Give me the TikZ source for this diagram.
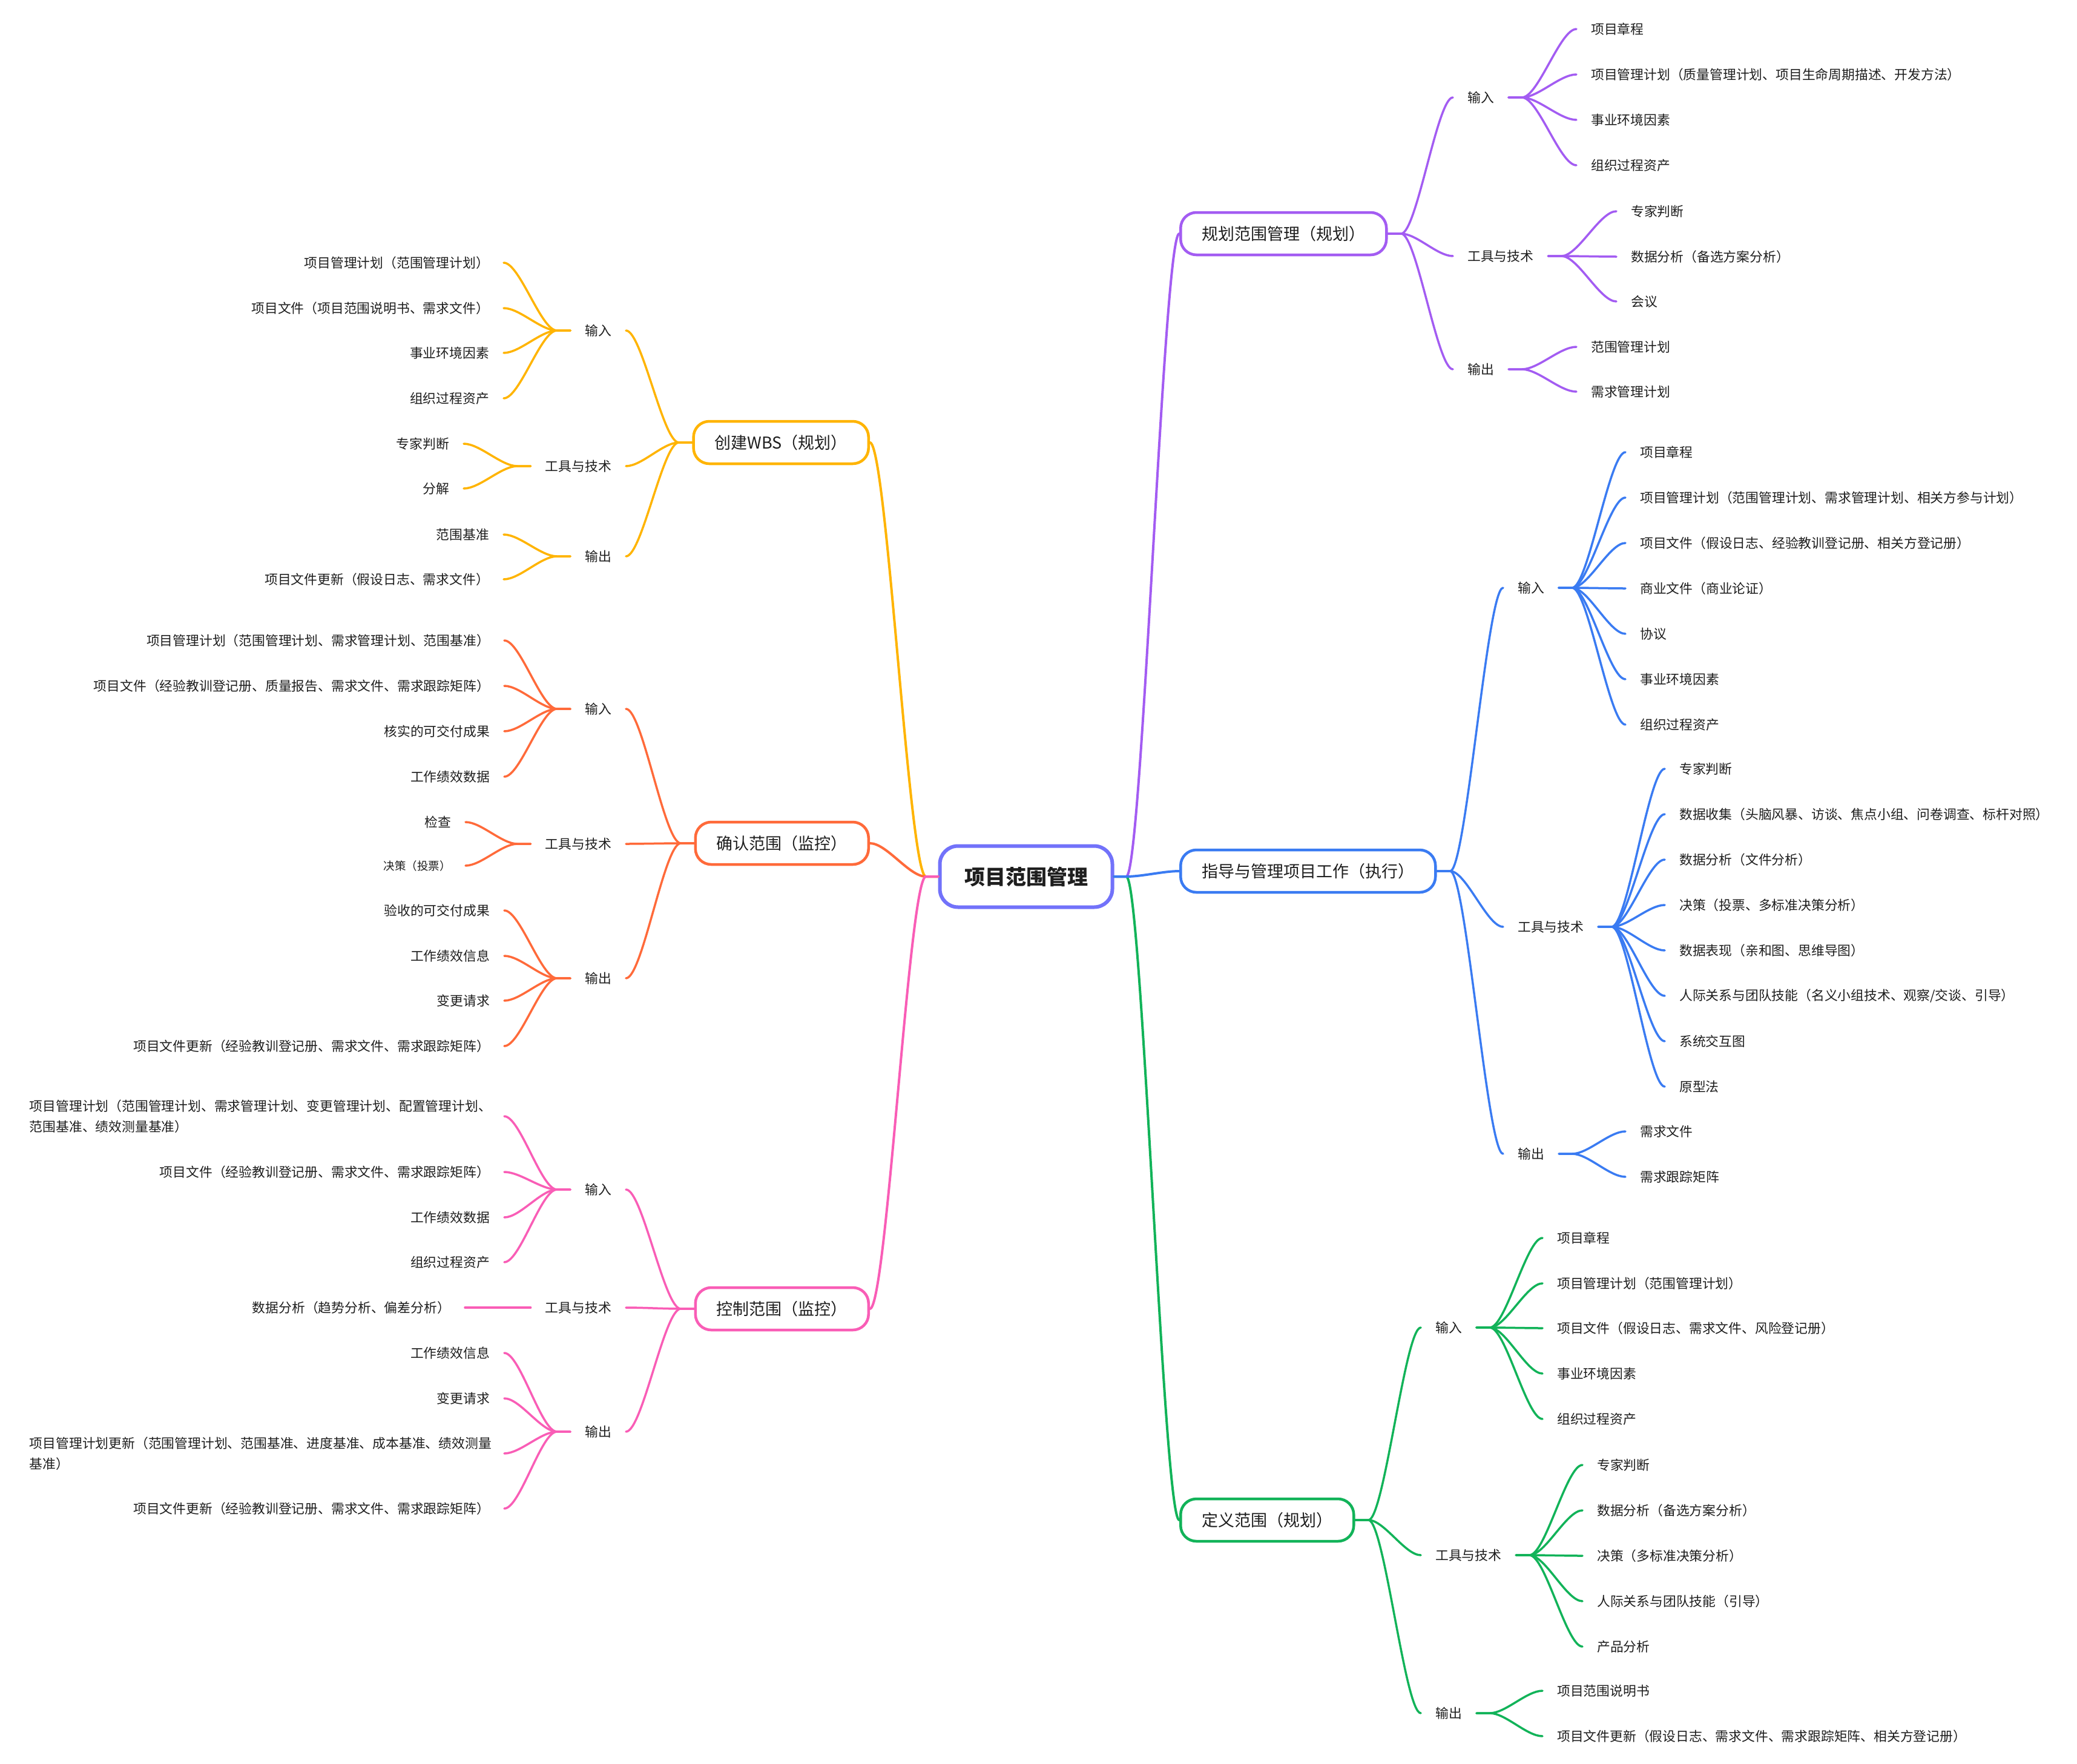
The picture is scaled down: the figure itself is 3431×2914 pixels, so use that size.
\documentclass[tikz,border=0pt]{standalone}
\usepackage{fontspec}
\setmainfont{Noto Sans CJK SC}
\usetikzlibrary{calc}

\definecolor{cpurple}{HTML}{A35CF2}
\definecolor{cblue}{HTML}{3A7BF2}
\definecolor{cgreen}{HTML}{12B359}
\definecolor{corange}{HTML}{FFB400}
\definecolor{cred}{HTML}{FF6A3A}
\definecolor{cpink}{HTML}{F95DB6}
\definecolor{croot}{HTML}{7272FA}
\definecolor{ink}{HTML}{1E1E1E}

\newcommand{\leaffont}{\fontsize{21.8pt}{34pt}\selectfont}
\newcommand{\smallleaffont}{\fontsize{18.5pt}{24pt}\selectfont}
\newcommand{\topicfont}{\fontsize{27pt}{32pt}\selectfont}
\newcommand{\rootfont}{\fontsize{34pt}{40pt}\selectfont\bfseries}

% curved branch: #1 style, #2 signed stub length, #3 start anchor, #4 end anchor
\newcommand{\branch}[4]{%
  \draw[#1] let \p1=(#3), \p2=(#4) in
    (\p1) -- ({\x1+(#2)},\y1)
    .. controls ({\x1+(#2)+0.3*(\x2-\x1-(#2))},\y1)
            and ({\x2-0.3*(\x2-\x1-(#2))},\y2) .. (\p2);}

% leaf on the right / left side: name, x, y, text, colour, parent
\newcommand{\twigR}[6]{%
  \node[leafR] (#1) at (#2,#3) {#4};
  \branch{wire=#5}{22}{#6.east}{#1.west}}
\newcommand{\twigL}[6]{%
  \node[leafL] (#1) at (#2,#3) {#4};
  \branch{wire=#5}{-22}{#6.west}{#1.east}}

\begin{document}
\begin{tikzpicture}[x=1pt,y=-1pt,
  rootbox/.style={draw=croot, line width=6pt, rounded corners=30pt, fill=white,
    minimum width=285pt, minimum height=101pt, font=\rootfont, text=ink},
  topic/.style={draw=#1, line width=4.5pt, rounded corners=26pt, fill=white,
    minimum height=70pt, inner xsep=35pt, font=\topicfont, text=ink},
  tag/.style={inner xsep=24pt, inner ysep=2pt, font=\leaffont, text=ink},
  leafR/.style={tag, anchor=west},
  leafL/.style={tag, anchor=east},
  wire/.style={draw=#1, line width=3.5pt, line cap=round, line join=round},
]
\fill[white] (0,0) rectangle (3431,2914);
\useasboundingbox (0,0) rectangle (3431,2914);

% ---------- central topic and main topics ----------
\node[rootbox] (root) at (1695,1448) {项目范围管理};

\node[topic=cpurple, anchor=west] (P) at (1948,386)  {规划范围管理（规划）};
\node[topic=cblue,   anchor=west] (D) at (1948,1439) {指导与管理项目工作（执行）};
\node[topic=cgreen,  anchor=west] (F) at (1948,2511) {定义范围（规划）};
\node[topic=corange, anchor=east] (W) at (1437,731)  {创建WBS（规划）};
\node[topic=cred,    anchor=east] (V) at (1437,1393) {确认范围（监控）};
\node[topic=cpink,   anchor=east] (C) at (1437,2162) {控制范围（监控）};

\branch{wire=corange, line width=4pt}{-20}{root.west}{W.east}
\branch{wire=cred,    line width=4pt}{-20}{root.west}{V.east}
\branch{wire=cpink,   line width=4pt}{-20}{root.west}{C.east}
\branch{wire=cpurple, line width=4pt}{20}{root.east}{P.west}
\branch{wire=cgreen,  line width=4pt}{20}{root.east}{F.west}
\branch{wire=cblue,   line width=4pt}{20}{root.east}{D.west}

% ---------- 规划范围管理 ----------
\node[leafR] (P-in)  at (2400,161) {输入};
\node[leafR] (P-tt)  at (2400,423) {工具与技术};
\node[leafR] (P-out) at (2400,610) {输出};
\branch{wire=cpurple}{22}{P.east}{P-in.west}
\branch{wire=cpurple}{22}{P.east}{P-tt.west}
\branch{wire=cpurple}{22}{P.east}{P-out.west}

\twigR{P-in-1}{2604}{48}{项目章程}{cpurple}{P-in}
\twigR{P-in-2}{2604}{123}{项目管理计划（质量管理计划、项目生命周期描述、开发方法）}{cpurple}{P-in}
\twigR{P-in-3}{2604}{198}{事业环境因素}{cpurple}{P-in}
\twigR{P-in-4}{2604}{273}{组织过程资产}{cpurple}{P-in}
\twigR{P-tt-1}{2670}{349}{专家判断}{cpurple}{P-tt}
\twigR{P-tt-2}{2670}{424}{数据分析（备选方案分析）}{cpurple}{P-tt}
\twigR{P-tt-3}{2670}{498}{会议}{cpurple}{P-tt}
\twigR{P-out-1}{2604}{573}{范围管理计划}{cpurple}{P-out}
\twigR{P-out-2}{2604}{647}{需求管理计划}{cpurple}{P-out}

% ---------- 指导与管理项目工作 ----------
\node[leafR] (D-in)  at (2483,971)  {输入};
\node[leafR] (D-tt)  at (2483,1531) {工具与技术};
\node[leafR] (D-out) at (2483,1906) {输出};
\branch{wire=cblue}{22}{D.east}{D-in.west}
\branch{wire=cblue}{22}{D.east}{D-tt.west}
\branch{wire=cblue}{22}{D.east}{D-out.west}

\twigR{D-in-1}{2685}{747}{项目章程}{cblue}{D-in}
\twigR{D-in-2}{2685}{822}{项目管理计划（范围管理计划、需求管理计划、相关方参与计划）}{cblue}{D-in}
\twigR{D-in-3}{2685}{897}{项目文件（假设日志、经验教训登记册、相关方登记册）}{cblue}{D-in}
\twigR{D-in-4}{2685}{972}{商业文件（商业论证）}{cblue}{D-in}
\twigR{D-in-5}{2685}{1047}{协议}{cblue}{D-in}
\twigR{D-in-6}{2685}{1122}{事业环境因素}{cblue}{D-in}
\twigR{D-in-7}{2685}{1197}{组织过程资产}{cblue}{D-in}
\twigR{D-tt-1}{2750}{1270}{专家判断}{cblue}{D-tt}
\twigR{D-tt-2}{2750}{1345}{数据收集（头脑风暴、访谈、焦点小组、问卷调查、标杆对照）}{cblue}{D-tt}
\twigR{D-tt-3}{2750}{1420}{数据分析（文件分析）}{cblue}{D-tt}
\twigR{D-tt-4}{2750}{1495}{决策（投票、多标准决策分析）}{cblue}{D-tt}
\twigR{D-tt-5}{2750}{1570}{数据表现（亲和图、思维导图）}{cblue}{D-tt}
\twigR{D-tt-6}{2750}{1645}{人际关系与团队技能（名义小组技术、观察/交谈、引导）}{cblue}{D-tt}
\twigR{D-tt-7}{2750}{1720}{系统交互图}{cblue}{D-tt}
\twigR{D-tt-8}{2750}{1795}{原型法}{cblue}{D-tt}
\twigR{D-out-1}{2685}{1869}{需求文件}{cblue}{D-out}
\twigR{D-out-2}{2685}{1944}{需求跟踪矩阵}{cblue}{D-out}

% ---------- 定义范围 ----------
\node[leafR] (F-in)  at (2347,2193) {输入};
\node[leafR] (F-tt)  at (2347,2569) {工具与技术};
\node[leafR] (F-out) at (2347,2830) {输出};
\branch{wire=cgreen}{22}{F.east}{F-in.west}
\branch{wire=cgreen}{22}{F.east}{F-tt.west}
\branch{wire=cgreen}{22}{F.east}{F-out.west}

\twigR{F-in-1}{2548}{2045}{项目章程}{cgreen}{F-in}
\twigR{F-in-2}{2548}{2120}{项目管理计划（范围管理计划）}{cgreen}{F-in}
\twigR{F-in-3}{2548}{2194}{项目文件（假设日志、需求文件、风险登记册）}{cgreen}{F-in}
\twigR{F-in-4}{2548}{2269}{事业环境因素}{cgreen}{F-in}
\twigR{F-in-5}{2548}{2344}{组织过程资产}{cgreen}{F-in}
\twigR{F-tt-1}{2614}{2420}{专家判断}{cgreen}{F-tt}
\twigR{F-tt-2}{2614}{2495}{数据分析（备选方案分析）}{cgreen}{F-tt}
\twigR{F-tt-3}{2614}{2570}{决策（多标准决策分析）}{cgreen}{F-tt}
\twigR{F-tt-4}{2614}{2645}{人际关系与团队技能（引导）}{cgreen}{F-tt}
\twigR{F-tt-5}{2614}{2720}{产品分析}{cgreen}{F-tt}
\twigR{F-out-1}{2548}{2793}{项目范围说明书}{cgreen}{F-out}
\twigR{F-out-2}{2548}{2868}{项目文件更新（假设日志、需求文件、需求跟踪矩阵、相关方登记册）}{cgreen}{F-out}

% ---------- 创建WBS ----------
\node[leafL] (W-in)  at (1034,546) {输入};
\node[leafL] (W-tt)  at (1034,770) {工具与技术};
\node[leafL] (W-out) at (1034,919) {输出};
\branch{wire=corange}{-22}{W.west}{W-in.east}
\branch{wire=corange}{-22}{W.west}{W-tt.east}
\branch{wire=corange}{-22}{W.west}{W-out.east}

\twigL{W-in-1}{832}{434}{项目管理计划（范围管理计划）}{corange}{W-in}
\twigL{W-in-2}{832}{509}{项目文件（项目范围说明书、需求文件）}{corange}{W-in}
\twigL{W-in-3}{832}{583}{事业环境因素}{corange}{W-in}
\twigL{W-in-4}{832}{658}{组织过程资产}{corange}{W-in}
\twigL{W-tt-1}{766}{733}{专家判断}{corange}{W-tt}
\twigL{W-tt-2}{766}{807}{分解}{corange}{W-tt}
\twigL{W-out-1}{832}{883}{范围基准}{corange}{W-out}
\twigL{W-out-2}{832}{957}{项目文件更新（假设日志、需求文件）}{corange}{W-out}

% ---------- 确认范围 ----------
\node[leafL] (V-in)  at (1034,1171) {输入};
\node[leafL] (V-tt)  at (1034,1394) {工具与技术};
\node[leafL] (V-out) at (1034,1616) {输出};
\branch{wire=cred}{-22}{V.west}{V-in.east}
\branch{wire=cred}{-22}{V.west}{V-tt.east}
\branch{wire=cred}{-22}{V.west}{V-out.east}

\twigL{V-in-1}{833}{1058}{项目管理计划（范围管理计划、需求管理计划、范围基准）}{cred}{V-in}
\twigL{V-in-2}{833}{1133}{项目文件（经验教训登记册、质量报告、需求文件、需求跟踪矩阵）}{cred}{V-in}
\twigL{V-in-3}{833}{1208}{核实的可交付成果}{cred}{V-in}
\twigL{V-in-4}{833}{1283}{工作绩效数据}{cred}{V-in}
\twigL{V-tt-1}{769}{1358}{检查}{cred}{V-tt}
\twigL{V-tt-2}{769}{1430}{\smallleaffont 决策（投票）}{cred}{V-tt}
\twigL{V-out-1}{833}{1504}{验收的可交付成果}{cred}{V-out}
\twigL{V-out-2}{833}{1579}{工作绩效信息}{cred}{V-out}
\twigL{V-out-3}{833}{1653}{变更请求}{cred}{V-out}
\twigL{V-out-4}{833}{1728}{项目文件更新（经验教训登记册、需求文件、需求跟踪矩阵）}{cred}{V-out}

% ---------- 控制范围 ----------
\node[leafL] (C-in)  at (1034,1965) {输入};
\node[leafL] (C-tt)  at (1034,2160) {工具与技术};
\node[leafL] (C-out) at (1034,2365) {输出};
\branch{wire=cpink}{-22}{C.west}{C-in.east}
\branch{wire=cpink}{-22}{C.west}{C-tt.east}
\branch{wire=cpink}{-22}{C.west}{C-out.east}

\node[leafL, text width=760pt, align=left] (C-in-1) at (833,1844)
  {项目管理计划（范围管理计划、需求管理计划、变更管理计划、配置管理计划、\\范围基准、绩效测量基准）};
\branch{wire=cpink}{-22}{C-in.west}{C-in-1.east}
\twigL{C-in-2}{833}{1936}{项目文件（经验教训登记册、需求文件、需求跟踪矩阵）}{cpink}{C-in}
\twigL{C-in-3}{833}{2011}{工作绩效数据}{cpink}{C-in}
\twigL{C-in-4}{833}{2085}{组织过程资产}{cpink}{C-in}
\twigL{C-tt-1}{768}{2160}{数据分析（趋势分析、偏差分析）}{cpink}{C-tt}
\twigL{C-out-1}{833}{2235}{工作绩效信息}{cpink}{C-out}
\twigL{C-out-2}{833}{2310}{变更请求}{cpink}{C-out}
\node[leafL, text width=760pt, align=left] (C-out-3) at (833,2401)
  {项目管理计划更新（范围管理计划、范围基准、进度基准、成本基准、绩效测量\\基准）};
\branch{wire=cpink}{-22}{C-out.west}{C-out-3.east}
\twigL{C-out-4}{833}{2492}{项目文件更新（经验教训登记册、需求文件、需求跟踪矩阵）}{cpink}{C-out}

\end{tikzpicture}
\end{document}
